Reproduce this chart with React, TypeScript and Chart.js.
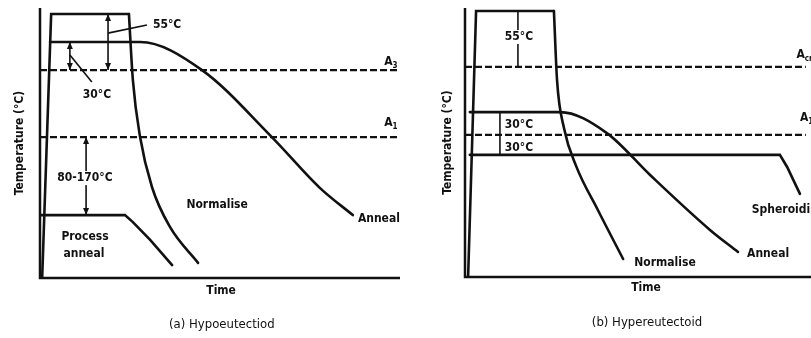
import React, { useEffect, useRef } from "react";
import { Chart, registerables } from "chart.js";

Chart.register(...registerables);

const FONT = '"DejaVu Sans Condensed", "DejaVu Sans", sans-serif';

// ---------- Panel (a) Hypoeutectoid : time (0-100) vs temperature (0-100, schematic) ----------
const aNormHoldTime = [0.6, 3.1, 24.7];
const aNormHoldTemp = [0, 97.8, 97.8];
const aNormCoolTime = [24.7, 25.8, 27.8, 31.1, 36.1, 43.9];
const aNormCoolTemp = [97.8, 73.3, 52.2, 33.7, 18.9, 5.6];
const aAnnealTime = [2.8, 27.8, 45.0, 64.4, 77.8, 86.9];
const aAnnealTemp = [87.4, 87.4, 77.0, 52.2, 33.3, 23.3];
const aProcTime = [0, 23.6, 25.8, 30.6, 36.7];
const aProcTemp = [23.3, 23.3, 20.7, 14.1, 4.8];
const aA3 = 77.0;
const aA1 = 52.2;

// ---------- Panel (b) Hypereutectoid ----------
const bNormHoldTime = [0.9, 3.2, 25.7];
const bNormHoldTemp = [0, 98.9, 98.9];
const bNormCoolTime = [25.7, 26.6, 28.6, 32.1, 38.4, 45.7];
const bNormCoolTemp = [98.9, 73.2, 55.4, 41.3, 24.9, 6.7];
const bAnnealTime = [1.4, 27.5, 41.0, 53.5, 70.8, 78.9];
const bAnnealTemp = [61.3, 61.3, 53.5, 37.9, 17.5, 9.3];
const bSpherTime = [1.4, 91.0, 93.1, 96.8];
const bSpherTemp = [45.4, 45.4, 40.9, 30.9];
const bAcm = 78.1;
const bA1 = 52.8;

type Curve = { t: number[]; T: number[]; smooth: boolean };
type Label = { text: string; sub?: string; t: number; T: number; align?: CanvasTextAlign; box?: boolean };
type Panel = {
  padding: { left: number; right: number; top: number; bottom: number };
  curves: Curve[];
  criticals: { T: number }[];
  critEnd: number;
  arrows: { t: number; from: number; to: number; heads: boolean }[];
  leaders: number[][];
  labels: Label[];
  yTitleOffset: number;
  timeT: number;
  captionT: number;
  timeDy: number;
  captionDy: number;
  caption: string;
};

const panelA: Panel = {
  padding: { left: 40, right: 5, top: 8, bottom: 60 },
  curves: [
    { t: aNormHoldTime, T: aNormHoldTemp, smooth: false },
    { t: aNormCoolTime, T: aNormCoolTemp, smooth: true },
    { t: aAnnealTime, T: aAnnealTemp, smooth: true },
    { t: aProcTime, T: aProcTemp, smooth: false },
  ],
  criticals: [{ T: aA3 }, { T: aA1 }],
  critEnd: 100,
  arrows: [
    { t: 18.9, from: 97.8, to: aA3, heads: true },
    { t: 8.3, from: 87.4, to: aA3, heads: true },
    { t: 12.8, from: aA1, to: 23.3, heads: true },
  ],
  leaders: [
    [18.9, 90.7, 29.7, 93.7],
    [8.3, 82.6, 14.4, 72.6],
  ],
  labels: [
    { text: "55°C", t: 35.3, T: 93.7 },
    { text: "30°C", t: 15.8, T: 67.8 },
    { text: "80-170°C", t: 12.5, T: 37.0, box: true },
    { text: "Normalise", t: 49.2, T: 27.0 },
    { text: "Process", t: 12.5, T: 15.2 },
    { text: "anneal", t: 12.2, T: 8.9 },
    { text: "Anneal", t: 88.3, T: 21.9, align: "left" },
    { text: "A", sub: "3", t: 95.6, T: 80.0, align: "left" },
    { text: "A", sub: "1", t: 95.6, T: 57.4, align: "left" },
  ],
  yTitleOffset: 20,
  timeT: 50.3,
  captionT: 50.5,
  timeDy: 13,
  captionDy: 47,
  caption: "(a) Hypoeutectiod",
};

const panelB: Panel = {
  padding: { left: 60, right: 0, top: 8, bottom: 61 },
  curves: [
    { t: bNormHoldTime, T: bNormHoldTemp, smooth: false },
    { t: bNormCoolTime, T: bNormCoolTemp, smooth: true },
    { t: bAnnealTime, T: bAnnealTemp, smooth: true },
    { t: bSpherTime, T: bSpherTemp, smooth: false },
  ],
  criticals: [{ T: bAcm }, { T: bA1 }],
  critEnd: 98.5,
  arrows: [
    { t: 15.3, from: 98.9, to: bAcm, heads: false },
    { t: 10.1, from: 61.3, to: 45.4, heads: false },
  ],
  leaders: [],
  labels: [
    { text: "55°C", t: 15.6, T: 89.2, box: true },
    { text: "30°C", t: 15.6, T: 56.5 },
    { text: "30°C", t: 15.6, T: 48.0 },
    { text: "Normalise", t: 57.8, T: 5.2 },
    { text: "Anneal", t: 87.6, T: 8.6 },
    { text: "Spheroidise", t: 82.9, T: 24.9, align: "left" },
    { text: "A", sub: "cm", t: 95.8, T: 82.5, align: "left" },
    { text: "A", sub: "1", t: 96.8, T: 59.1, align: "left" },
  ],
  yTitleOffset: 17,
  timeT: 52.3,
  captionT: 52.6,
  timeDy: 11,
  captionDy: 46,
  caption: "(b) Hypereutectoid",
};

function head(ctx: CanvasRenderingContext2D, x: number, y: number, dir: number) {
  ctx.beginPath();
  ctx.moveTo(x, y);
  ctx.lineTo(x - 3, y - dir * 7);
  ctx.lineTo(x + 3, y - dir * 7);
  ctx.closePath();
  ctx.fill();
}

function makePlugin(p: Panel) {
  return {
    id: "diagram",
    beforeDatasetsDraw(chart: any) {
      const { ctx, chartArea: a, scales } = chart;
      const xs = scales.x, ys = scales.y;
      ctx.save();
      ctx.strokeStyle = "#111";
      ctx.fillStyle = "#111";
      ctx.lineWidth = 2.5;
      ctx.beginPath();
      ctx.moveTo(a.left, a.top);
      ctx.lineTo(a.left, a.bottom);
      ctx.lineTo(a.right, a.bottom);
      ctx.stroke();
      ctx.lineWidth = 2.2;
      ctx.setLineDash([7, 3]);
      p.criticals.forEach((c) => {
        const y = ys.getPixelForValue(c.T);
        ctx.beginPath();
        ctx.moveTo(a.left, y);
        ctx.lineTo(xs.getPixelForValue(p.critEnd), y);
        ctx.stroke();
      });
      ctx.setLineDash([]);
      ctx.lineWidth = 1.6;
      p.arrows.forEach((r) => {
        const x = xs.getPixelForValue(r.t);
        const y1 = ys.getPixelForValue(r.from);
        const y2 = ys.getPixelForValue(r.to);
        ctx.beginPath();
        ctx.moveTo(x, y1);
        ctx.lineTo(x, y2);
        ctx.stroke();
        if (r.heads) {
          head(ctx, x, y1, -1);
          head(ctx, x, y2, 1);
        }
      });
      p.leaders.forEach((l) => {
        ctx.beginPath();
        ctx.moveTo(xs.getPixelForValue(l[0]), ys.getPixelForValue(l[1]));
        ctx.lineTo(xs.getPixelForValue(l[2]), ys.getPixelForValue(l[3]));
        ctx.stroke();
      });
      ctx.restore();
    },
    afterDatasetsDraw(chart: any) {
      const { ctx, chartArea: a, scales } = chart;
      const xs = scales.x, ys = scales.y;
      ctx.save();
      ctx.fillStyle = "#111";
      ctx.textBaseline = "middle";
      p.labels.forEach((l) => {
        const x = xs.getPixelForValue(l.t);
        const y = ys.getPixelForValue(l.T);
        ctx.font = `bold 12px ${FONT}`;
        ctx.textAlign = l.align || "center";
        if (l.box) {
          const w = ctx.measureText(l.text).width;
          ctx.fillStyle = "#fff";
          ctx.fillRect(x - w / 2 - 2, y - 7, w + 4, 14);
          ctx.fillStyle = "#111";
        }
        ctx.fillText(l.text, x, y);
        if (l.sub) {
          const w = ctx.measureText(l.text).width;
          ctx.font = `bold 8px ${FONT}`;
          ctx.textAlign = "left";
          ctx.fillText(l.sub, x + w, y + 4);
        }
      });
      ctx.font = `bold 12px ${FONT}`;
      ctx.textAlign = "center";
      ctx.fillText("Time", xs.getPixelForValue(p.timeT), a.bottom + p.timeDy);
      ctx.font = `13px ${FONT}`;
      ctx.fillText(p.caption, xs.getPixelForValue(p.captionT), a.bottom + p.captionDy);
      ctx.save();
      ctx.translate(a.left - p.yTitleOffset, (a.top + a.bottom) / 2);
      ctx.rotate(-Math.PI / 2);
      ctx.font = `600 12px ${FONT}`;
      ctx.fillText("Temperature (°C)", 0, 0);
      ctx.restore();
      ctx.restore();
    },
  };
}

function Diagram({ panel, width, left }: { panel: Panel; width: number; left: number }) {
  const ref = useRef<HTMLCanvasElement | null>(null);
  useEffect(() => {
    if (!ref.current) return;
    const chart = new Chart(ref.current, {
      type: "line",
      data: {
        datasets: panel.curves.map((c) => ({
          data: c.t.map((t, i) => ({ x: t, y: c.T[i] })),
          borderColor: "#111",
          borderWidth: 2.6,
          pointRadius: 0,
          fill: false,
          tension: 0,
          cubicInterpolationMode: c.smooth ? "monotone" : "default",
          borderCapStyle: "round",
          borderJoinStyle: "miter",
        })),
      } as any,
      options: {
        responsive: false,
        animation: false,
        devicePixelRatio: 1,
        events: [],
        layout: { padding: panel.padding },
        scales: {
          x: { type: "linear", min: 0, max: 100, display: false },
          y: { type: "linear", min: 0, max: 100, display: false },
        },
        plugins: { legend: { display: false }, tooltip: { enabled: false } },
      } as any,
      plugins: [makePlugin(panel)],
    });
    return () => chart.destroy();
  }, [panel]);
  return (
    <canvas
      ref={ref}
      width={width}
      height={338}
      style={{ position: "absolute", left, top: 0, width, height: 338 }}
    />
  );
}

export default function App() {
  return (
    <div style={{ position: "fixed", left: 0, top: 0, width: 811, height: 338, background: "#fff", overflow: "hidden" }}>
      <Diagram panel={panelA} width={405} left={0} />
      <Diagram panel={panelB} width={406} left={405} />
    </div>
  );
}
